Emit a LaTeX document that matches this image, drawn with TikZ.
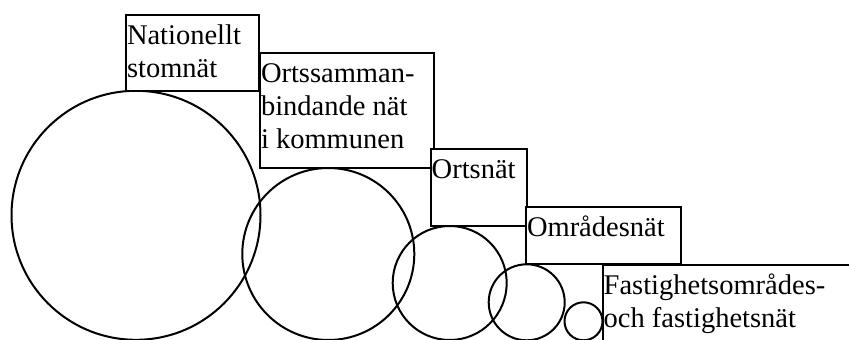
\documentclass[tikz,border=0pt]{standalone}
\usepackage{fontspec}
\setmainfont{Liberation Serif}
\begin{document}
\begin{tikzpicture}[x=1pt,y=-1pt,line width=2pt,
  ring/.style={draw, circle, inner sep=0pt, outer sep=0pt},
  boxshape/.style={draw, fill=white, rectangle, inner sep=0pt, outer sep=0pt, anchor=north west},
  lbl/.style={anchor=north west, inner sep=0pt, outer sep=0pt, align=left, font=\fontsize{28.5}{33}\selectfont}]
\useasboundingbox (0,0) rectangle (849,340);
\clip (0,0) rectangle (849,340);
% circles
\node[ring, minimum size=249pt] (c1) at (136,215.3) {};
\node[ring, minimum size=172pt] (c2) at (328.3,254) {};
\node[ring, minimum size=114pt] (c3) at (449.7,283) {};
\node[ring, minimum size=76pt] (c4) at (526.7,302.3) {};
\node[ring, minimum size=38pt] (c5) at (583.5,321.3) {};
% boxes with labels
\node[boxshape, minimum width=132.7pt, minimum height=76.3pt] (b1) at (126,14.7) {};
\node[lbl] (t1) at ([xshift=1pt]b1.north west) {\rule{0pt}{29.3pt}Nationellt\\stomnät};
\node[boxshape, minimum width=174.3pt, minimum height=115pt] (b2) at (260,53.3) {};
\node[lbl] (t2) at ([xshift=1pt]b2.north west) {\rule{0pt}{29.3pt}Ortssamman-\\bindande nät\\i kommunen};
\node[boxshape, minimum width=96.6pt, minimum height=77pt] (b3) at (430.7,149) {};
\node[lbl] (t3) at ([xshift=1pt]b3.north west) {\rule{0pt}{29.3pt}Ortsnät};
\node[boxshape, minimum width=155pt, minimum height=57.6pt] (b4) at (526,206.7) {};
\node[lbl] (t4) at ([xshift=1pt]b4.north west) {\rule{0pt}{29.3pt}Områdesnät};
\node[boxshape, minimum width=260pt, minimum height=100pt] (b5) at (602.7,264.7) {};
\node[lbl] (t5) at ([xshift=1pt]b5.north west) {\rule{0pt}{29.3pt}Fastighetsområdes-\\och fastighetsnät};
\end{tikzpicture}
\end{document}
